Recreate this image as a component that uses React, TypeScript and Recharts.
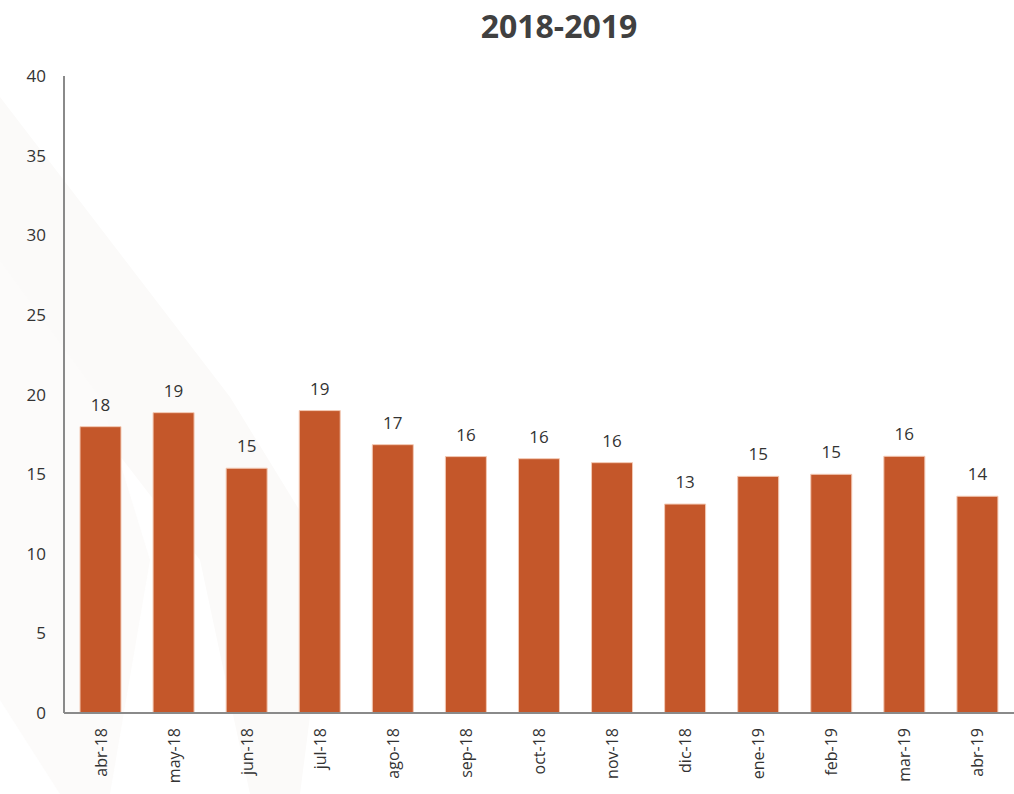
import { Bar, BarChart, LabelList, XAxis, YAxis } from "recharts";

const months = [
  "abr-18",
  "may-18",
  "jun-18",
  "jul-18",
  "ago-18",
  "sep-18",
  "oct-18",
  "nov-18",
  "dic-18",
  "ene-19",
  "feb-19",
  "mar-19",
  "abr-19",
];
const values = [17.98, 18.86, 15.37, 18.99, 16.85, 16.1, 15.97, 15.72, 13.12, 14.86, 14.99, 16.12, 13.61];
const yTicks = [0, 5, 10, 15, 20, 25, 30, 35, 40];

const data = months.map((m, i) => ({ month: m, value: values[i] }));

const FONT = "'Open Sans', 'Noto Sans', sans-serif";

const MonthTick = (props: any) => {
  const { x, y, payload } = props;
  return (
    <text
      x={x}
      y={y}
      transform={`rotate(-90, ${x}, ${y})`}
      textAnchor="end"
      dominantBaseline="central"
      fontSize={16}
      fontFamily={FONT}
      fill="#333"
    >
      {payload.value}
    </text>
  );
};

const App = () => {
  return (
    <div
      style={{
        position: "absolute",
        left: 0,
        top: 0,
        width: 1014,
        height: 794,
        background: "#fff",
        overflow: "hidden",
      }}
    >
      {/* very faint watermark behind the chart */}
      <svg width={1014} height={794} style={{ position: "absolute", left: 0, top: 0 }}>
        <path d="M0 97 L230 397 L330 560 L300 794 L250 794 L200 560 L0 300 Z" fill="#fbfaf9" />
        <path d="M0 260 L100 397 L150 560 L110 794 L60 794 L0 700 Z" fill="#fcfbfa" />
      </svg>
      <div
        style={{
          position: "absolute",
          left: 0,
          top: 4,
          width: 1118,
          textAlign: "center",
          fontFamily: FONT,
          fontWeight: 700,
          fontSize: 32,
          color: "#404040",
        }}
      >
        2018-2019
      </div>
      <div style={{ position: "absolute", left: 0, top: 0 }}>
        <BarChart
          width={1014}
          height={794}
          data={data}
          margin={{ top: 76, right: 0, left: 0, bottom: 0 }}
          barSize={41}
        >
          <XAxis
            dataKey="month"
            axisLine={{ stroke: "#8a8a8a", strokeWidth: 2 }}
            tickLine={false}
            tickMargin={9}
            height={81}
            interval={0}
            tick={<MonthTick />}
          />
          <YAxis
            domain={[0, 40]}
            ticks={yTicks}
            width={64}
            axisLine={{ stroke: "#8a8a8a", strokeWidth: 2 }}
            tickLine={false}
            tickMargin={12}
            tick={{ fontSize: 17, fontFamily: FONT, fill: "#333" }}
          />
          <Bar
            dataKey="value"
            fill="#C4572A"
            stroke="#f3c9b4"
            strokeWidth={1}
            isAnimationActive={false}
          >
            <LabelList
              dataKey="value"
              position="top"
              offset={16}
              formatter={(v: any) => Math.round(Number(v))}
              style={{ fontSize: 17, fontFamily: FONT, fill: "#333" }}
            />
          </Bar>
        </BarChart>
      </div>
    </div>
  );
};

export default App;
